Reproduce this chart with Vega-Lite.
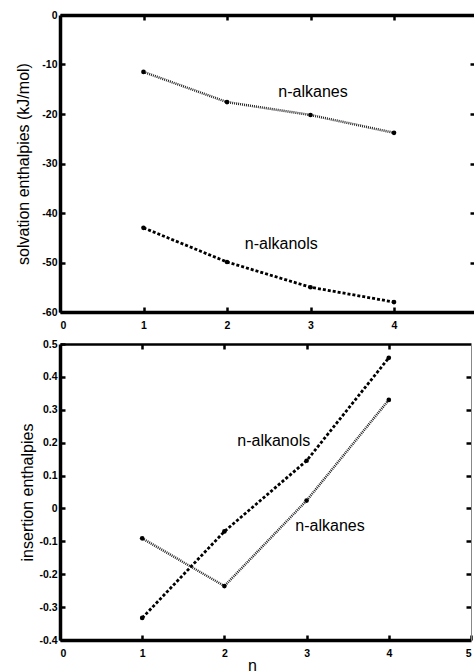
{
  "$schema": "https://vega.github.io/schema/vega-lite/v6.json",
  "padding": {"left": 15, "top": 10, "right": -3, "bottom": 0},
  "spacing": 8,
  "config": {
    "view": {"stroke": null},
    "font": "Liberation Sans",
    "axis": {
      "labelFont": "Liberation Sans", "labelFontSize": 10.5, "labelColor": "black", "labelFontWeight": "bold",
      "titleFont": "Liberation Sans", "titleFontSize": 16, "titleFontWeight": "normal", "titleColor": "black",
      "domainColor": "black", "domainWidth": 3.5, "tickColor": "black", "grid": false, "tickSize": -5, "tickWidth": 2.5
    }
  },
  "datasets": {
    "solv": [
      {"series": "n-alkanes", "n": 1, "value": -11.5},
      {"series": "n-alkanes", "n": 2, "value": -17.6},
      {"series": "n-alkanes", "n": 3, "value": -20.2},
      {"series": "n-alkanes", "n": 4, "value": -23.8},
      {"series": "n-alkanols", "n": 1, "value": -43.0},
      {"series": "n-alkanols", "n": 2, "value": -49.9},
      {"series": "n-alkanols", "n": 3, "value": -55.0},
      {"series": "n-alkanols", "n": 4, "value": -58.0}
    ],
    "ins": [
      {"series": "n-alkanes", "n": 1, "value": -0.091},
      {"series": "n-alkanes", "n": 2, "value": -0.236},
      {"series": "n-alkanes", "n": 3, "value": 0.024},
      {"series": "n-alkanes", "n": 4, "value": 0.33},
      {"series": "n-alkanols", "n": 1, "value": -0.333},
      {"series": "n-alkanols", "n": 2, "value": -0.07},
      {"series": "n-alkanols", "n": 3, "value": 0.145},
      {"series": "n-alkanols", "n": 4, "value": 0.458}
    ],
    "solvLab": [
      {"label": "n-alkanes", "n": 3.03, "value": -15.5},
      {"label": "n-alkanols", "n": 2.65, "value": -46.3}
    ],
    "insLab": [
      {"label": "n-alkanols", "n": 2.6, "value": 0.206},
      {"label": "n-alkanes", "n": 3.285, "value": -0.052}
    ]
  },
  "vconcat": [
    {
      "width": 415, "height": 297,
      "layer": [
        {
          "data": {"name": "solv"},
          "transform": [{"filter": "datum.series == 'n-alkanes'"}],
          "mark": {"type": "line", "color": "#222", "strokeWidth": 2.5, "strokeDash": [1, 1]},
          "encoding": {
            "x": {"field": "n", "type": "quantitative", "scale": {"domain": [0, 4.97], "nice": false},
              "axis": {"orient": "bottom", "values": [0, 1, 2, 3, 4], "labelPadding": 13, "title": null, "labelExpr": "'' + datum.value"}},
            "y": {"field": "value", "type": "quantitative", "scale": {"domain": [-60, 0], "nice": false},
              "axis": {"orient": "left", "values": [0, -10, -20, -30, -40, -50, -60], "labelPadding": 8, "title": "solvation enthalpies (kJ/mol)", "titlePadding": 10.5, "labelExpr": "'' + datum.value"}}
          }
        },
        {
          "data": {"name": "solv"},
          "transform": [{"filter": "datum.series == 'n-alkanols'"}],
          "mark": {"type": "line", "color": "black", "strokeWidth": 2.8, "strokeDash": [3, 2]},
          "encoding": {
            "x": {"field": "n", "type": "quantitative", "axis": null},
            "y": {"field": "value", "type": "quantitative", "axis": null}
          }
        },
        {
          "data": {"name": "solv"},
          "mark": {"type": "point", "filled": true, "color": "black", "opacity": 1, "size": 22},
          "encoding": {
            "x": {"field": "n", "type": "quantitative",
              "axis": {"orient": "top", "values": [1, 2, 3, 4], "labels": false, "title": null}},
            "y": {"field": "value", "type": "quantitative",
              "axis": {"orient": "right", "values": [-10, -20, -30, -40, -50], "labels": false, "domain": false, "title": null}}
          }
        },
        {
          "data": {"name": "solvLab"},
          "mark": {"type": "text", "fontSize": 16, "font": "Liberation Sans", "color": "black"},
          "encoding": {
            "x": {"field": "n", "type": "quantitative", "axis": null},
            "y": {"field": "value", "type": "quantitative", "axis": null},
            "text": {"field": "label"}
          }
        }
      ],
      "resolve": {"axis": {"x": "independent", "y": "independent"}}
    },
    {
      "width": 411, "height": 296,
      "layer": [
        {
          "data": {"name": "ins"},
          "transform": [{"filter": "datum.series == 'n-alkanes'"}],
          "mark": {"type": "line", "color": "#222", "strokeWidth": 2.5, "strokeDash": [1, 1]},
          "encoding": {
            "x": {"field": "n", "type": "quantitative", "scale": {"domain": [0, 5], "nice": false},
              "axis": {"orient": "bottom", "values": [0, 1, 2, 3, 4, 5], "labelPadding": 13, "title": "n", "titleX": 192, "titleY": 30, "titleBaseline": "alphabetic", "labelExpr": "'' + datum.value"}},
            "y": {"field": "value", "type": "quantitative", "scale": {"domain": [-0.4, 0.5], "nice": false},
              "axis": {"orient": "left", "values": [-0.4, -0.3, -0.2, -0.1, 0, 0.1, 0.2, 0.3, 0.4, 0.5], "labelPadding": 8, "title": "insertion enthalpies", "titlePadding": 3, "labelExpr": "'' + datum.value"}}
          }
        },
        {
          "data": {"name": "ins"},
          "transform": [{"filter": "datum.series == 'n-alkanols'"}],
          "mark": {"type": "line", "color": "black", "strokeWidth": 2.8, "strokeDash": [3, 2]},
          "encoding": {
            "x": {"field": "n", "type": "quantitative", "axis": null},
            "y": {"field": "value", "type": "quantitative", "axis": null}
          }
        },
        {
          "data": {"name": "ins"},
          "mark": {"type": "point", "filled": true, "color": "black", "opacity": 1, "size": 22},
          "encoding": {
            "x": {"field": "n", "type": "quantitative",
              "axis": {"orient": "top", "values": [1, 2, 3, 4], "labels": false, "title": null, "domainWidth": 2.5}},
            "y": {"field": "value", "type": "quantitative",
              "axis": {"orient": "right", "values": [-0.3, -0.2, -0.1, 0, 0.1, 0.2, 0.3, 0.4], "labels": false, "title": null, "domainWidth": 1, "domainColor": "#888"}}
          }
        },
        {
          "data": {"name": "insLab"},
          "mark": {"type": "text", "fontSize": 16, "font": "Liberation Sans", "color": "black"},
          "encoding": {
            "x": {"field": "n", "type": "quantitative", "axis": null},
            "y": {"field": "value", "type": "quantitative", "axis": null},
            "text": {"field": "label"}
          }
        }
      ],
      "resolve": {"axis": {"x": "independent", "y": "independent"}}
    }
  ]
}
